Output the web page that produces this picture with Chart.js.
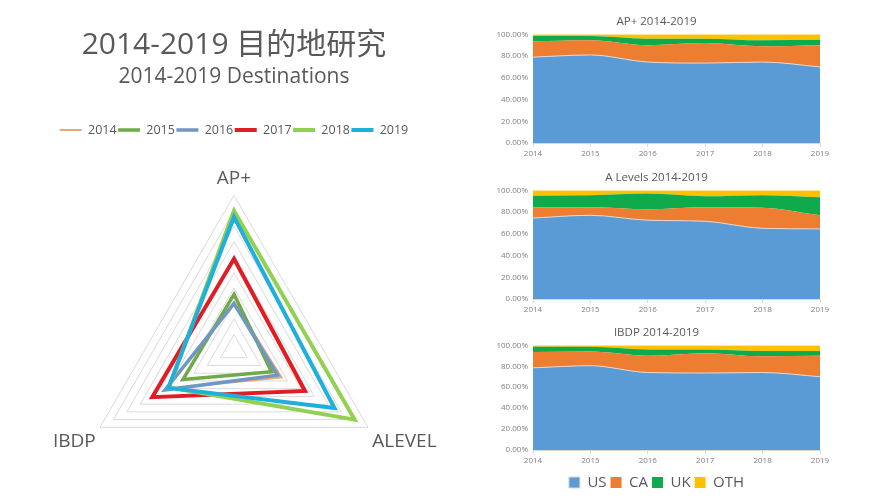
<!DOCTYPE html>
<html lang="zh-CN">
<head>
<meta charset="UTF-8">
<title>2014-2019 目的地研究</title>
<script src="https://cdn.jsdelivr.net/npm/chart.js"></script>
<style>
  html, body { margin: 0; padding: 0; background: #fff; }
  body { width: 894px; height: 500px; overflow: hidden; position: relative; }
  .box { position: absolute; }
</style>
</head>
<body>
<div class="box" style="left:0;top:0;width:468px;height:520px"><canvas id="radar"></canvas></div>
<div class="box" style="left:488px;top:10px;width:345px;height:155px"><canvas id="apChart"></canvas></div>
<div class="box" style="left:488px;top:166px;width:345px;height:155px"><canvas id="alChart"></canvas></div>
<div class="box" style="left:488px;top:321px;width:345px;height:179px"><canvas id="ibChart"></canvas></div>

<script>
// radar: programme axes and yearly values (scale 0-10)
const programmes = ['AP+', 'ALEVEL', 'IBDP'];
const radarYears = ['2014', '2015', '2016', '2017', '2018', '2019'];
const v2014 = [3.1, 3.55, 5.0];
const v2015 = [3.6, 2.8, 3.8];
const v2016 = [3.0, 3.25, 5.15];
const v2017 = [5.9, 5.3, 6.1];
const v2018 = [9.0, 9.0, 4.85];
const v2019 = [8.6, 7.5, 4.9];

// stacked areas: share of destination per year (%)
const years = ['2014', '2015', '2016', '2017', '2018', '2019'];
const destinations = ['US', 'CA', 'UK', 'OTH'];
const apUS  = [79, 81, 74.5, 73.5, 74.5, 70];
const apCA  = [14.5, 13.5, 15.5, 18.5, 14.5, 20];
const apUK  = [5, 4, 6, 4, 5.5, 5];
const apOTH = [1.5, 1.5, 4, 4, 5.5, 5];
const alUS  = [74.5, 77, 72.5, 71.5, 65, 64.5];
const alCA  = [10, 7.5, 10, 13, 19, 12.5];
const alUK  = [10.5, 11, 14.5, 10, 11.5, 16.5];
const alOTH = [5, 4.5, 3, 5.5, 4.5, 6.5];
const ibUS  = [78.5, 80.5, 74, 73.5, 74, 70];
const ibCA  = [15, 13.5, 16, 19, 15.5, 20];
const ibUK  = [5, 4.5, 6, 3.5, 5, 4.5];
const ibOTH = [1.5, 1.5, 4, 4, 5.5, 5.5];

const FONT = '"Open Sans", "Noto Sans CJK SC", sans-serif';
const TEXT = '#595959';

// push the chart area down a bit below the legend
const legendGap = px => ({
    id: 'legendGap',
    beforeInit(chart) {
        const fit = chart.legend.fit;
        chart.legend.fit = function () {
            fit.bind(chart.legend)();
            this.height += px;
        };
    }
});

const yearColors = ['#E6A677', '#6FAA48', '#7096C2', '#E21C24', '#92D050', '#1EAFDD'];
const yearWidths = [2, 3.5, 3.5, 4, 4, 4];
const radarValues = [v2014, v2015, v2016, v2017, v2018, v2019];

const radar = new Chart(document.getElementById('radar'), {
    type: 'radar',
    data: {
        labels: programmes,
        datasets: radarYears.map((y, i) => ({
            label: y,
            data: radarValues[i],
            borderColor: yearColors[i],
            backgroundColor: yearColors[i],
            borderWidth: yearWidths[i],
            fill: false,
            pointRadius: 0,
            order: radarYears.length - i
        }))
    },
    options: {
        responsive: true,
        maintainAspectRatio: false,
        animation: false,
        layout: { padding: 0 },
        plugins: {
            title: {
                display: true,
                text: '2014-2019 目的地研究',
                color: TEXT,
                font: { family: FONT, size: 30, weight: 'normal' },
                padding: { top: 27, bottom: 0 }
            },
            subtitle: {
                display: true,
                text: '2014-2019 Destinations',
                color: TEXT,
                font: { family: FONT, size: 21, weight: 'normal' },
                padding: { top: 1, bottom: 33 }
            },
            legend: {
                position: 'top',
                labels: {
                    usePointStyle: true,
                    pointStyle: 'line',
                    pointStyleWidth: 22,
                    color: TEXT,
                    font: { family: FONT, size: 12.5 },
                    padding: 1.5,
                    sort: (a, b) => a.datasetIndex - b.datasetIndex
                }
            },
            tooltip: { enabled: false }
        },
        scales: {
            r: {
                min: 0,
                max: 10,
                ticks: { display: false, stepSize: 1 },
                grid: { color: '#d9d9d9', lineWidth: 1 },
                angleLines: { display: false },
                pointLabels: {
                    color: TEXT,
                    font: { family: FONT, size: 19 },
                    padding: 5
                }
            }
        }
    },
    plugins: [legendGap(8.3)]
});

const areaColors = ['#5B9BD5', '#ED7D31', '#0FAA4B', '#FFC000'];

function areaChart(id, title, series, showLegend, axisHeight) {
    return new Chart(document.getElementById(id), {
        type: 'line',
        data: {
            labels: years,
            datasets: destinations.map((d, i) => ({
                label: d,
                data: series[i],
                backgroundColor: areaColors[i],
                borderColor: i === 0 ? '#e4d6cf' : areaColors[i],
                borderWidth: i === 0 ? 1 : 0,
                fill: i === 0 ? 'origin' : '-1',
                pointRadius: 0,
                cubicInterpolationMode: 'monotone'
            }))
        },
        options: {
            responsive: true,
            maintainAspectRatio: false,
            animation: false,
            layout: { padding: { left: 5, right: 13, top: 0, bottom: showLegend ? 0 : 6 } },
            plugins: {
                title: {
                    display: true,
                    text: title,
                    color: TEXT,
                    font: { family: FONT, size: 11.5, weight: 'normal' },
                    padding: { top: 5, bottom: 5.5 }
                },
                legend: {
                    display: showLegend,
                    position: 'bottom',
                    labels: {
                        boxWidth: 11,
                        boxHeight: 11,
                        color: TEXT,
                        font: { family: FONT, size: 15 },
                        padding: 4
                    }
                },
                tooltip: { enabled: false }
            },
            scales: {
                x: {
                    grid: { display: true, drawOnChartArea: false, drawTicks: true, tickLength: 4, color: '#d9d9d9' },
                    border: { color: '#d9d9d9' },
                    ticks: { color: '#808080', font: { family: FONT, size: 8 }, padding: 2, maxRotation: 0 },
                    afterFit: s => { s.height = axisHeight; }
                },
                y: {
                    stacked: true,
                    min: 0,
                    max: 100,
                    grid: { display: false, drawTicks: false },
                    border: { display: false },
                    ticks: {
                        stepSize: 20,
                        color: '#808080',
                        font: { family: FONT, size: 8 },
                        padding: 5,
                        callback: v => v.toFixed(2) + '%'
                    },
                    afterFit: s => { s.width = 40; }
                }
            }
        }
    });
}

areaChart('apChart', 'AP+ 2014-2019', [apUS, apCA, apUK, apOTH], false, 16);
areaChart('alChart', 'A Levels 2014-2019', [alUS, alCA, alUK, alOTH], false, 16);
areaChart('ibChart', 'IBDP 2014-2019', [ibUS, ibCA, ibUK, ibOTH], true, 21);
</script>
</body>
</html>
